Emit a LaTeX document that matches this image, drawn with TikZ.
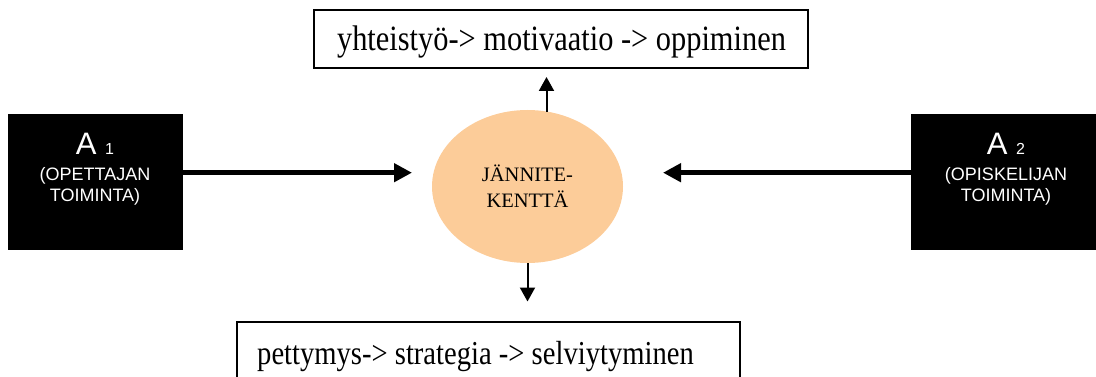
\documentclass[tikz,border=0pt]{standalone}
\usepackage{fontspec}
\usepackage{graphicx}
\setmainfont{Liberation Serif}
\newfontfamily\arialfont{Liberation Sans}
\usetikzlibrary{arrows.meta,shapes.geometric}
\definecolor{peach}{HTML}{FCCC99}
\begin{document}
\begin{tikzpicture}[x=1pt,y=-1pt,
  blackbox/.style={fill=black,draw=none,minimum width=175pt,minimum height=136pt,inner sep=0pt},
  textbox/.style={draw=black,line width=1.3pt,fill=white,inner sep=0pt},
  bigarrow/.style={line width=5pt,-{Triangle[length=18pt,width=18pt]}},
  smallarrow/.style={line width=2pt,-{Triangle[length=14pt,width=15pt]}},
  wlabel/.style={text=white,anchor=base,inner sep=0pt},
  boxtext/.style={anchor=base,inner sep=0pt}
]
\useasboundingbox (0,0) rectangle (1096,377);
\clip (0,0) rectangle (1096,377);

% boxes
\node[blackbox] (A1) at (95.5,182) {};
\node[blackbox,minimum width=187pt] (A2) at (1004.5,182) {};
\node[textbox,minimum width=494pt,minimum height=58pt] (top) at (561,39) {};
\node[textbox,minimum width=503pt,minimum height=70pt] (bot) at (488.5,357) {};
\node[ellipse,fill=peach,draw=none,minimum width=191pt,minimum height=153pt,inner sep=0pt] (E) at (527.5,186.5) {};

% texts
\node[wlabel,font=\arialfont\fontsize{31}{31}\selectfont] (a1t) at (95,154.5) {A {\fontsize{16}{16}\selectfont 1}};
\node[wlabel,font=\arialfont\fontsize{18}{18}\selectfont] (a1l2) at (95,181) {(OPETTAJAN};
\node[wlabel,font=\arialfont\fontsize{18}{18}\selectfont] (a1l3) at (95,201) {TOIMINTA)};

\node[wlabel,font=\arialfont\fontsize{31}{31}\selectfont] (a2t) at (1006,154.5) {A {\fontsize{16}{16}\selectfont 2}};
\node[wlabel,font=\arialfont\fontsize{18}{18}\selectfont] (a2l2) at (1006,181) {(OPISKELIJAN};
\node[wlabel,font=\arialfont\fontsize{18}{18}\selectfont] (a2l3) at (1006,201) {TOIMINTA)};

\node[boxtext,font=\fontsize{20.5}{20.5}\selectfont] (e1) at (527.5,182) {JÄNNITE-};
\node[boxtext,font=\fontsize{20.5}{20.5}\selectfont] (e2) at (527.5,207.5) {KENTTÄ};

\node[boxtext,font=\fontsize{30.4}{30.4}\selectfont] (tt) at (561.5,50.5) {\scalebox{1}[1.17]{yhteistyö-> motivaatio -> oppiminen}};
\node[boxtext,anchor=base west,font=\fontsize{28.6}{28.6}\selectfont] (bt) at (257,364) {\scalebox{1}[1.17]{pettymys-> strategia -> selviytyminen}};

% arrows
\coordinate (l1) at (412,172.7);
\coordinate (r1) at (663,172.7);
\coordinate (u1) at (546.5,77);
\coordinate (d1) at (527.5,301.5);
\draw[bigarrow] (A1.east |- l1) -- (l1);
\draw[bigarrow] (A2.west |- r1) -- (r1);
\draw[smallarrow] ([yshift=-2pt]E.north -| u1) -- (u1);
\draw[smallarrow] (E.south) -- (d1);
\end{tikzpicture}
\end{document}
